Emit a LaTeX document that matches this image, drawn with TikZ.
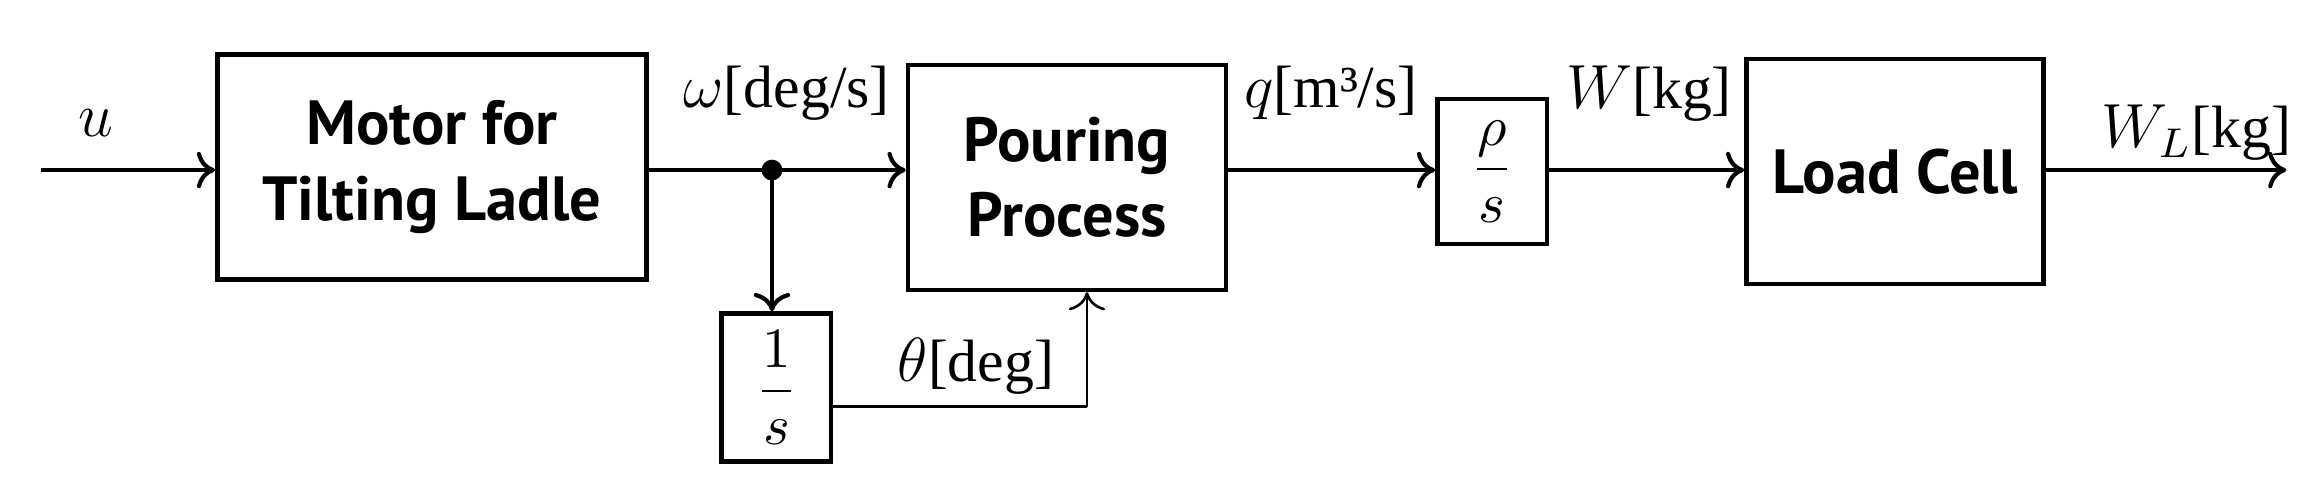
\documentclass[tikz,border=0pt]{standalone}
\usepackage{amsmath}
\usepackage{fontspec}
\setsansfont{PT Sans}
\newfontfamily\unitfont{Liberation Serif}
\usetikzlibrary{arrows.meta}
\begin{document}
\begin{tikzpicture}[
  blk/.style={draw,line width=0.9pt,inner sep=0pt,align=center,font=\sffamily\bfseries\fontsize{12}{14.5}\selectfont},
  sblk/.style={draw,line width=0.9pt,inner sep=0pt,font=\fontsize{11}{13}\selectfont},
  sig/.style={line width=0.8pt,-{To[length=3.5pt,width=7pt]}},
  lab/.style={font=\fontsize{11.5}{14}\selectfont}]
\useasboundingbox (0,0) rectangle (15.6,3.35);
\node[blk,minimum width=2.9cm,minimum height=1.52cm] (mot) at (2.92,2.22) {Motor for\\Tilting Ladle};
\node[blk,minimum width=2.15cm,minimum height=1.52cm] (pour) at (7.215,2.15) {Pouring\\Process};
\node[sblk,minimum width=0.74cm,minimum height=1.0cm] (int) at (5.25,0.73) {$\dfrac{1}{s}$};
\node[sblk,minimum width=0.74cm,minimum height=0.98cm] (rho) at (10.09,2.19) {$\dfrac{\rho}{s}$};
\node[blk,minimum width=2.01cm,minimum height=1.52cm] (load) at (12.815,2.19) {Load Cell};
\coordinate (in) at (0.28,2.20);
\coordinate (out) at (15.46,2.20);
\coordinate (j) at (5.22,2.20);
\coordinate (t) at (7.35,0.60);
\draw[sig] (in) -- (mot.west |- in);
\draw[line width=0.8pt] (mot.east |- j) -- (j);
\fill (j) circle (2pt);
\draw[sig] (j) -- (pour.west |- j);
\draw[sig] (j) -- (int.north -| j);
\draw[line width=0.5pt] (int.east |- t) -- (t);
\draw[line width=0.5pt,-{To[length=3.5pt,width=7pt]}] (t) -- (t |- pour.south);
\draw[sig] (pour.east |- j) -- (rho.west |- j);
\draw[sig] (rho.east |- j) -- (load.west |- j);
\draw[sig] (load.east |- j) -- (out);
\node[lab] (lu) at (0.65,2.52) {$u$};
\node[lab] (lw) at (5.32,2.72) {$\omega${\unitfont[deg/s]}};
\node[lab] (lt) at (6.6,0.87) {$\theta${\unitfont[deg]}};
\node[lab] (lq) at (9.0,2.72) {$q${\unitfont[m³/s]}};
\node[lab] (lW) at (11.15,2.72) {$W${\unitfont[kg]}};
\node[lab] (lWL) at (14.85,2.45) {$W_L${\unitfont[kg]}};
\end{tikzpicture}
\end{document}
